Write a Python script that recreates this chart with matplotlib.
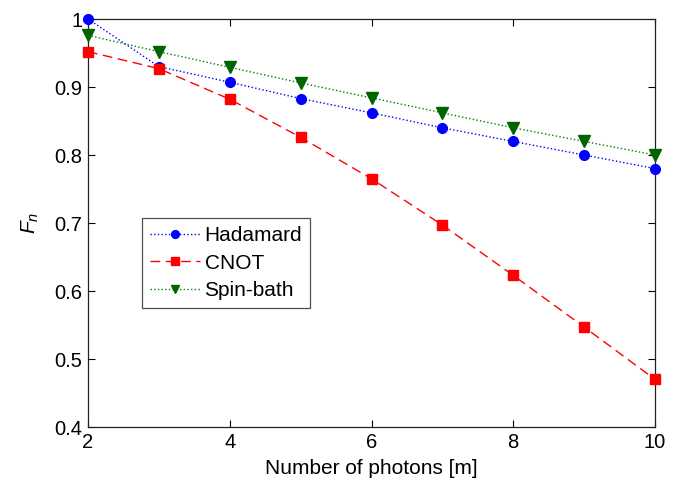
import matplotlib
matplotlib.use("Agg")
import matplotlib.pyplot as plt
from matplotlib.ticker import FixedLocator, FixedFormatter

plt.rcParams['font.family'] = ['Liberation Sans', 'DejaVu Sans']
plt.rcParams['mathtext.fontset'] = 'custom'
plt.rcParams['mathtext.it'] = 'Liberation Sans:italic'
plt.rcParams['mathtext.rm'] = 'Liberation Sans'

photons = [2, 3, 4, 5, 6, 7, 8, 9, 10]
hadamard = [1.0, 0.930, 0.907, 0.883, 0.862, 0.840, 0.820, 0.800, 0.780]
cnot = [0.952, 0.927, 0.882, 0.826, 0.765, 0.697, 0.623, 0.547, 0.470]
spinbath = [0.976, 0.952, 0.929, 0.906, 0.884, 0.862, 0.840, 0.820, 0.800]

xticks = [2, 4, 6, 8, 10]
yticks = [0.4, 0.5, 0.6, 0.7, 0.8, 0.9, 1.0]
ytick_labels = ['0.4', '0.5', '0.6', '0.7', '0.8', '0.9', '1']

fig = plt.figure(figsize=(6.9, 4.8), dpi=100)
ax = fig.add_axes([88/690, 53/480, 567/690, 408/480])

ax.plot(photons, hadamard, linestyle=':', color='#0000ff', marker='o',
        markersize=7, markerfacecolor='#0000ff', markeredgecolor='#0000ff',
        linewidth=1.0, label='Hadamard', clip_on=False, zorder=3)
ax.plot(photons, cnot, linestyle=(0, (7, 4)), color='#ff0000', marker='s',
        markersize=7, markerfacecolor='#ff0000', markeredgecolor='#ff0000',
        linewidth=1.0, label='CNOT', clip_on=False, zorder=3)
ax.plot(photons, spinbath, linestyle=':', color='#008000', marker='v',
        markersize=8, markerfacecolor='#006400', markeredgecolor='#006400',
        linewidth=1.0, label='Spin-bath', clip_on=False, zorder=3)

ax.set_xlim(2, 10)
ax.set_ylim(0.4, 1.0)
ax.xaxis.set_major_locator(FixedLocator(xticks))
ax.yaxis.set_major_locator(FixedLocator(yticks))
ax.yaxis.set_major_formatter(FixedFormatter(ytick_labels))
ax.tick_params(direction='in', top=True, right=True, length=5, width=0.8,
               labelsize=14.5, pad=4)
for s in ax.spines.values():
    s.set_linewidth(0.9)
    s.set_color('#222222')

ax.set_xlabel('Number of photons [m]', fontsize=15, labelpad=5)
ax.set_ylabel(r'$F_n$', fontsize=15, labelpad=10)

leg = ax.legend(loc='upper left', fancybox=False, frameon=True, fontsize=15,
                handlelength=2.4, borderpad=0.4, labelspacing=0.4,
                handletextpad=0.2, borderaxespad=0, markerscale=0.8)
leg.set_bbox_to_anchor((142/690, (480-218)/480), transform=fig.transFigure)
leg.get_frame().set_edgecolor('#222222')
leg.get_frame().set_linewidth(0.9)

fig.savefig('out.png', dpi=100)
